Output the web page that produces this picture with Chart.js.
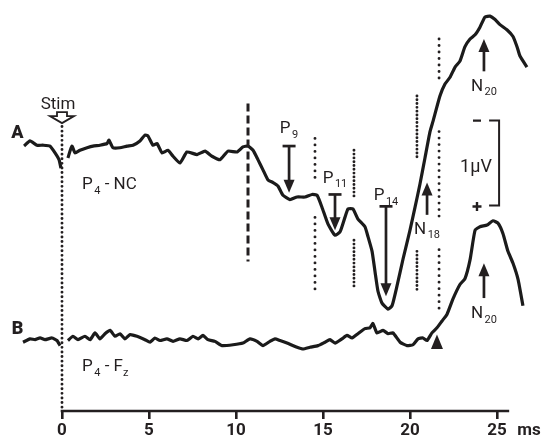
<!DOCTYPE html>
<html>
<head>
<meta charset="utf-8">
<script src="https://cdn.jsdelivr.net/npm/chart.js@4/dist/chart.umd.min.js"></script>
<style>
  html, body { margin: 0; padding: 0; background: #fff; }
  #sepChart { display: block; }
</style>
</head>
<body>
<canvas id="sepChart" width="542" height="442"></canvas>
<script>
// Trace A (P4 - NC): latency in ms, amplitude in µV (positive plotted downward)
const timesA = [-2.18, -1.84, -1.44, -1.09, -0.69, -0.40, -0.17, -0.06, 0.1,
  0.34, 0.57, 0.75, 1.03, 1.44, 1.78, 2.18, 2.59, 2.70, 2.93,
  3.33, 3.74, 4.08, 4.48, 4.77, 4.94, 5.23, 5.46, 5.75, 6.09,
  6.38, 6.78, 7.18, 7.76, 8.22, 8.62, 9.08, 9.54, 10.06, 10.40,
  10.69, 10.98, 11.26, 11.55, 11.84, 12.13, 12.41, 12.70, 13.10, 13.51,
  13.97, 14.37, 14.66, 14.94, 15.29, 15.69, 15.98, 16.26, 16.44, 16.72,
  17.01, 17.41, 17.59, 17.82, 17.99, 18.16, 18.39, 18.74, 18.97, 19.25,
  19.60, 20.00, 20.29, 20.57, 20.86, 21.15, 21.32, 21.72, 22.01, 22.30,
  22.59, 22.87, 23.16, 23.45, 23.74, 24.02, 24.31, 24.60, 24.89, 25.17,
  25.57, 25.92, 26.15, 26.32, 26.72];
const voltsA = [0, -0.06, -0.01, -0.01, 0, 0.08, 0.16, 0.26, null,
  0.14, 0, 0.08, 0.05, 0.02, 0, -0.01, -0.03, -0.07, 0.02,
  0.02, 0, -0.01, -0.06, -0.13, -0.12, -0.01, -0.03, 0.08, 0.05,
  0.12, 0.20, 0.07, 0.10, 0.06, 0.12, 0.16, 0.06, 0.07, 0.01,
  0, 0.05, 0.16, 0.28, 0.40, 0.43, 0.47, 0.58, 0.63, 0.60,
  0.60, 0.57, 0.58, 0.72, 0.92, 1.05, 1.01, 0.84, 0.74, 0.74,
  0.86, 0.95, 1.07, 1.24, 1.48, 1.71, 1.85, 1.92, 1.88, 1.65,
  1.33, 0.99, 0.72, 0.45, 0.14, -0.17, -0.29, -0.59, -0.73, -0.81,
  -0.93, -1.00, -1.17, -1.26, -1.31, -1.40, -1.52, -1.53, -1.49, -1.43,
  -1.37, -1.29, -1.17, -1.06, -0.93];

// Trace B (P4 - Fz)
const timesB = [-2.24, -1.84, -1.55, -1.26, -0.98, -0.57, -0.29, -0.11, 0.1,
  0.34, 0.63, 0.92, 1.32, 1.61, 1.90, 2.18, 2.47, 2.76, 3.05,
  3.33, 3.62, 3.91, 4.31, 4.77, 5.06, 5.34, 5.63, 6.03, 6.38,
  6.78, 7.18, 7.53, 7.82, 8.10, 8.39, 8.79, 9.20, 9.83, 10.40,
  10.80, 11.21, 11.55, 11.95, 12.24, 12.53, 12.93, 13.51, 13.85, 14.25,
  14.71, 15.11, 15.40, 15.69, 16.09, 16.38, 16.67, 17.01, 17.41, 17.70,
  17.87, 18.10, 18.45, 18.74, 19.02, 19.43, 19.83, 20.17, 20.46, 20.75,
  20.98, 21.26, 21.55, 21.84, 22.13, 22.47, 22.87, 23.16, 23.45, 23.74,
  24.02, 24.43, 24.77, 25.06, 25.34, 25.63, 25.92, 26.21, 26.49];
const voltsB = [0.02, -0.02, -0.01, -0.03, -0.01, -0.03, 0, 0.06, null,
  0, -0.05, -0.01, -0.05, -0.01, -0.09, -0.02, -0.08, -0.12, -0.05,
  -0.08, -0.02, -0.07, -0.05, -0.01, 0.02, -0.03, 0, -0.02, 0.01,
  -0.02, 0, -0.05, -0.02, -0.06, -0.01, 0.01, 0.06, 0.05, 0.03,
  -0.02, 0.01, 0.06, 0.01, -0.02, 0, 0.03, 0.08, 0.10, 0.08,
  0.06, 0.02, -0.01, 0.03, -0.02, -0.06, -0.03, -0.08, -0.14, -0.15,
  -0.20, -0.09, -0.12, -0.08, -0.09, 0.02, 0.06, 0.05, -0.02, -0.03,
  0, -0.09, -0.15, -0.23, -0.31, -0.49, -0.66, -0.73, -0.95, -1.30,
  -1.34, -1.36, -1.41, -1.38, -1.26, -1.05, -0.91, -0.72, -0.41];

const xTicks = [0, 5, 10, 15, 20, 25];
const unitLabel = 'ms';

// Peak markers: latency (ms), arrow tail/tip and label baseline (µV on own trace)
const peaks = [
  { trace: 'A', name: 'P', sub: '9',  ms: 13.05, tail: 0.00, tip: 0.55, label: -0.15, bar: true },
  { trace: 'A', name: 'P', sub: '11', ms: 15.69, tail: 0.57, tip: 0.99, label: 0.43, bar: true },
  { trace: 'A', name: 'P', sub: '14', ms: 18.62, tail: 0.71, tip: 1.77, label: 0.64, bar: true },
  { trace: 'A', name: 'N', sub: '18', ms: 20.98, tail: 0.81, tip: 0.43, label: 1.03, bar: false },
  { trace: 'A', name: 'N', sub: '20', ms: 24.25, tail: -0.88, tip: -1.26, label: -0.65, bar: false },
  { trace: 'B', name: 'N', sub: '20', ms: 24.25, tail: -0.50, tip: -0.91, label: -0.26, bar: false }
];

// Latency markers drawn as dotted segments (µV range on trace A) and dot spacing
const dottedMarks = [
  { ms: 14.54, gap: 6.5, spans: [[-0.09, 0.41], [0.84, 1.69]] },
  { ms: 16.78, gap: 3.8, spans: [[0.05, 0.63], [1.11, 1.69]] },
  { ms: 20.40, gap: 3.8, spans: [[-0.59, 0.14], [1.24, 1.71]] },
  { ms: 21.67, gap: 6.5, spans: [[-1.26, -0.79], [-0.17, 0.87], [1.22, 1.98]] }
];
const onsetMs = 10.69;       // dashed marker
const onsetB = 21.55;        // arrowhead under trace B

const BASE_A = 1.72;
const BASE_B = 4.01;
const Y_MAX = 4.84;
const INK = '#231f20';
const FONT = '"Roboto", "Noto Sans", sans-serif';

function toPoints(times, volts, base) {
  return times.map((t, i) => ({ x: t, y: volts[i] === null ? null : base + volts[i] }));
}

function dotted(ctx, x, y0, y1, gap) {
  ctx.save();
  ctx.setLineDash([0, gap]);
  ctx.lineCap = 'round';
  ctx.lineWidth = 2.9;
  ctx.strokeStyle = INK;
  ctx.beginPath();
  ctx.moveTo(x, y0);
  ctx.lineTo(x, y1);
  ctx.stroke();
  ctx.restore();
}

function arrow(ctx, x, yTail, yTip, bar) {
  const dir = Math.sign(yTip - yTail);
  const headLen = 13, headW = 5.5;
  ctx.save();
  ctx.strokeStyle = INK;
  ctx.fillStyle = INK;
  ctx.lineWidth = 2.7;
  ctx.beginPath();
  ctx.moveTo(x, yTail);
  ctx.lineTo(x, yTip - dir * headLen + dir);
  ctx.stroke();
  if (bar) {
    ctx.beginPath();
    ctx.moveTo(x - 6.5, yTail);
    ctx.lineTo(x + 6.5, yTail);
    ctx.stroke();
  }
  ctx.beginPath();
  ctx.moveTo(x, yTip);
  ctx.lineTo(x - headW, yTip - dir * headLen);
  ctx.lineTo(x + headW, yTip - dir * headLen);
  ctx.closePath();
  ctx.fill();
  ctx.restore();
}

// main letter with a lowered subscript (and optional trailing text)
function subLabel(ctx, main, sub, cx, baseline, size, subSize, tail) {
  ctx.font = size + 'px ' + FONT;
  const wMain = ctx.measureText(main).width;
  const wTail = tail ? ctx.measureText(tail).width : 0;
  ctx.font = subSize + 'px ' + FONT;
  const wSub = ctx.measureText(sub).width;
  const total = wMain + 1.5 + wSub + wTail;
  const x = cx === null ? 0 : cx - total / 2;
  return { total, draw(left) {
    const x0 = left === undefined ? x : left;
    ctx.save();
    ctx.fillStyle = INK;
    ctx.textBaseline = 'alphabetic';
    ctx.textAlign = 'left';
    ctx.font = size + 'px ' + FONT;
    ctx.fillText(main, x0, baseline);
    ctx.font = subSize + 'px ' + FONT;
    ctx.fillText(sub, x0 + wMain + 1.5, baseline + 4.5);
    if (tail) {
      ctx.font = size + 'px ' + FONT;
      ctx.fillText(tail, x0 + wMain + 1.5 + wSub, baseline);
    }
    ctx.restore();
  } };
}

const annotations = {
  id: 'sepAnnotations',
  afterDatasetsDraw(chart) {
    const ctx = chart.ctx;
    const xs = chart.scales.x, ys = chart.scales.y;
    const X = ms => xs.getPixelForValue(ms);
    const YA = v => ys.getPixelForValue(BASE_A + v);
    const YB = v => ys.getPixelForValue(BASE_B + v);
    const area = chart.chartArea;

    // x axis line from stimulus onwards
    ctx.save();
    ctx.strokeStyle = INK;
    ctx.lineWidth = 2.6;
    ctx.beginPath();
    ctx.moveTo(X(0) - 1.3, area.bottom);
    ctx.lineTo(X(25.7), area.bottom);
    ctx.stroke();
    ctx.font = 'bold 17px ' + FONT;
    ctx.fillStyle = INK;
    ctx.textAlign = 'center';
    ctx.textBaseline = 'top';
    ctx.fillText(unitLabel, X(26.84), area.bottom + 11);
    ctx.restore();

    // stimulus line and marker
    dotted(ctx, X(0), YA(-0.23), area.bottom, 4.6);
    ctx.save();
    ctx.fillStyle = INK;
    ctx.font = '17px ' + FONT;
    ctx.textAlign = 'center';
    ctx.textBaseline = 'alphabetic';
    ctx.fillText('Stim', X(-0.23), YA(-0.44));
    const sx = X(0), sy = YA(-0.40);
    ctx.beginPath();
    ctx.moveTo(sx - 5, sy);
    ctx.lineTo(sx + 5, sy);
    ctx.lineTo(sx + 5, sy + 4);
    ctx.lineTo(sx + 12, sy + 4);
    ctx.lineTo(sx, sy + 11);
    ctx.lineTo(sx - 12, sy + 4);
    ctx.lineTo(sx - 5, sy + 4);
    ctx.closePath();
    ctx.fillStyle = '#fff';
    ctx.fill();
    ctx.strokeStyle = INK;
    ctx.lineWidth = 1.8;
    ctx.stroke();
    ctx.restore();

    // onset dashed marker
    ctx.save();
    ctx.strokeStyle = INK;
    ctx.lineWidth = 3;
    ctx.setLineDash([8, 4]);
    ctx.beginPath();
    ctx.moveTo(X(onsetMs), YA(-0.50));
    ctx.lineTo(X(onsetMs), YA(1.36));
    ctx.stroke();
    ctx.restore();

    dottedMarks.forEach(m => {
      m.spans.forEach(s => dotted(ctx, X(m.ms), YA(s[0]), YA(s[1]), m.gap));
    });

    // peak arrows and labels
    peaks.forEach(p => {
      const Y = p.trace === 'A' ? YA : YB;
      arrow(ctx, X(p.ms), Y(p.tail), Y(p.tip), p.bar);
      subLabel(ctx, p.name, p.sub, X(p.ms), Y(p.label), 17, 11).draw();
    });

    // onset arrowhead below trace B
    ctx.save();
    ctx.fillStyle = INK;
    ctx.beginPath();
    ctx.moveTo(X(onsetB), YB(-0.07));
    ctx.lineTo(X(onsetB) - 6, YB(0.10));
    ctx.lineTo(X(onsetB) + 6, YB(0.10));
    ctx.closePath();
    ctx.fill();
    ctx.restore();

    // calibration bracket: 1 µV
    ctx.save();
    ctx.strokeStyle = INK;
    ctx.lineWidth = 2;
    const bx = X(25.12), bTop = YA(-0.30), bBot = YA(0.70);
    ctx.beginPath();
    ctx.moveTo(bx - 10, bTop);
    ctx.lineTo(bx, bTop);
    ctx.lineTo(bx, bBot);
    ctx.lineTo(bx - 10, bBot);
    ctx.stroke();
    ctx.lineWidth = 2.4;
    ctx.beginPath();
    ctx.moveTo(X(23.85) - 4, bTop);
    ctx.lineTo(X(23.85) + 4, bTop);
    ctx.moveTo(X(23.85) - 4.5, bBot + 1);
    ctx.lineTo(X(23.85) + 4.5, bBot + 1);
    ctx.moveTo(X(23.85), bBot + 1 - 4.5);
    ctx.lineTo(X(23.85), bBot + 1 + 4.5);
    ctx.stroke();
    ctx.fillStyle = INK;
    ctx.font = '18px ' + FONT;
    ctx.textAlign = 'center';
    ctx.textBaseline = 'alphabetic';
    ctx.fillText('1µV', X(23.79), YA(0.31));
    ctx.restore();

    // trace names and derivations
    ctx.save();
    ctx.fillStyle = INK;
    ctx.font = '900 18px ' + FONT;
    ctx.textAlign = 'center';
    ctx.textBaseline = 'alphabetic';
    ctx.fillText('A', X(-2.56), YA(-0.09));
    ctx.fillText('B', X(-2.56), YB(-0.08));
    ctx.restore();
    subLabel(ctx, 'P', '4', null, YA(0.51), 17, 11, ' - NC').draw(X(1.15));
    const fz = subLabel(ctx, 'P', '4', null, YB(0.36), 17, 11, ' - F');
    fz.draw(X(1.15));
    subLabel(ctx, '', 'z', null, YB(0.36), 17, 11).draw(X(1.15) + fz.total - 1.5);
  }
};

new Chart(document.getElementById('sepChart'), {
  type: 'line',
  data: {
    datasets: [
      { label: 'P4 - NC', data: toPoints(timesA, voltsA, BASE_A) },
      { label: 'P4 - Fz', data: toPoints(timesB, voltsB, BASE_B) }
    ]
  },
  options: {
    responsive: false,
    animation: false,
    devicePixelRatio: 1,
    layout: { padding: 0 },
    spanGaps: false,
    elements: {
      line: { borderColor: '#1b1b1b', borderWidth: 3.2, tension: 0.15, fill: false },
      point: { radius: 0 }
    },
    plugins: { legend: { display: false }, tooltip: { enabled: false } },
    scales: {
      x: {
        type: 'linear',
        min: -3.563,
        max: 27.586,
        afterBuildTicks: scale => { scale.ticks = xTicks.map(v => ({ value: v })); },
        border: { display: false },
        grid: { drawOnChartArea: false, drawTicks: true, tickLength: 8, lineWidth: 2.6, color: INK },
        ticks: {
          color: INK,
          padding: 3,
          maxRotation: 0,
          font: { family: FONT, size: 17, weight: 'bold', lineHeight: 1 }
        }
      },
      y: { type: 'linear', display: false, reverse: true, min: 0, max: Y_MAX }
    }
  },
  plugins: [annotations]
});
</script>
</body>
</html>
